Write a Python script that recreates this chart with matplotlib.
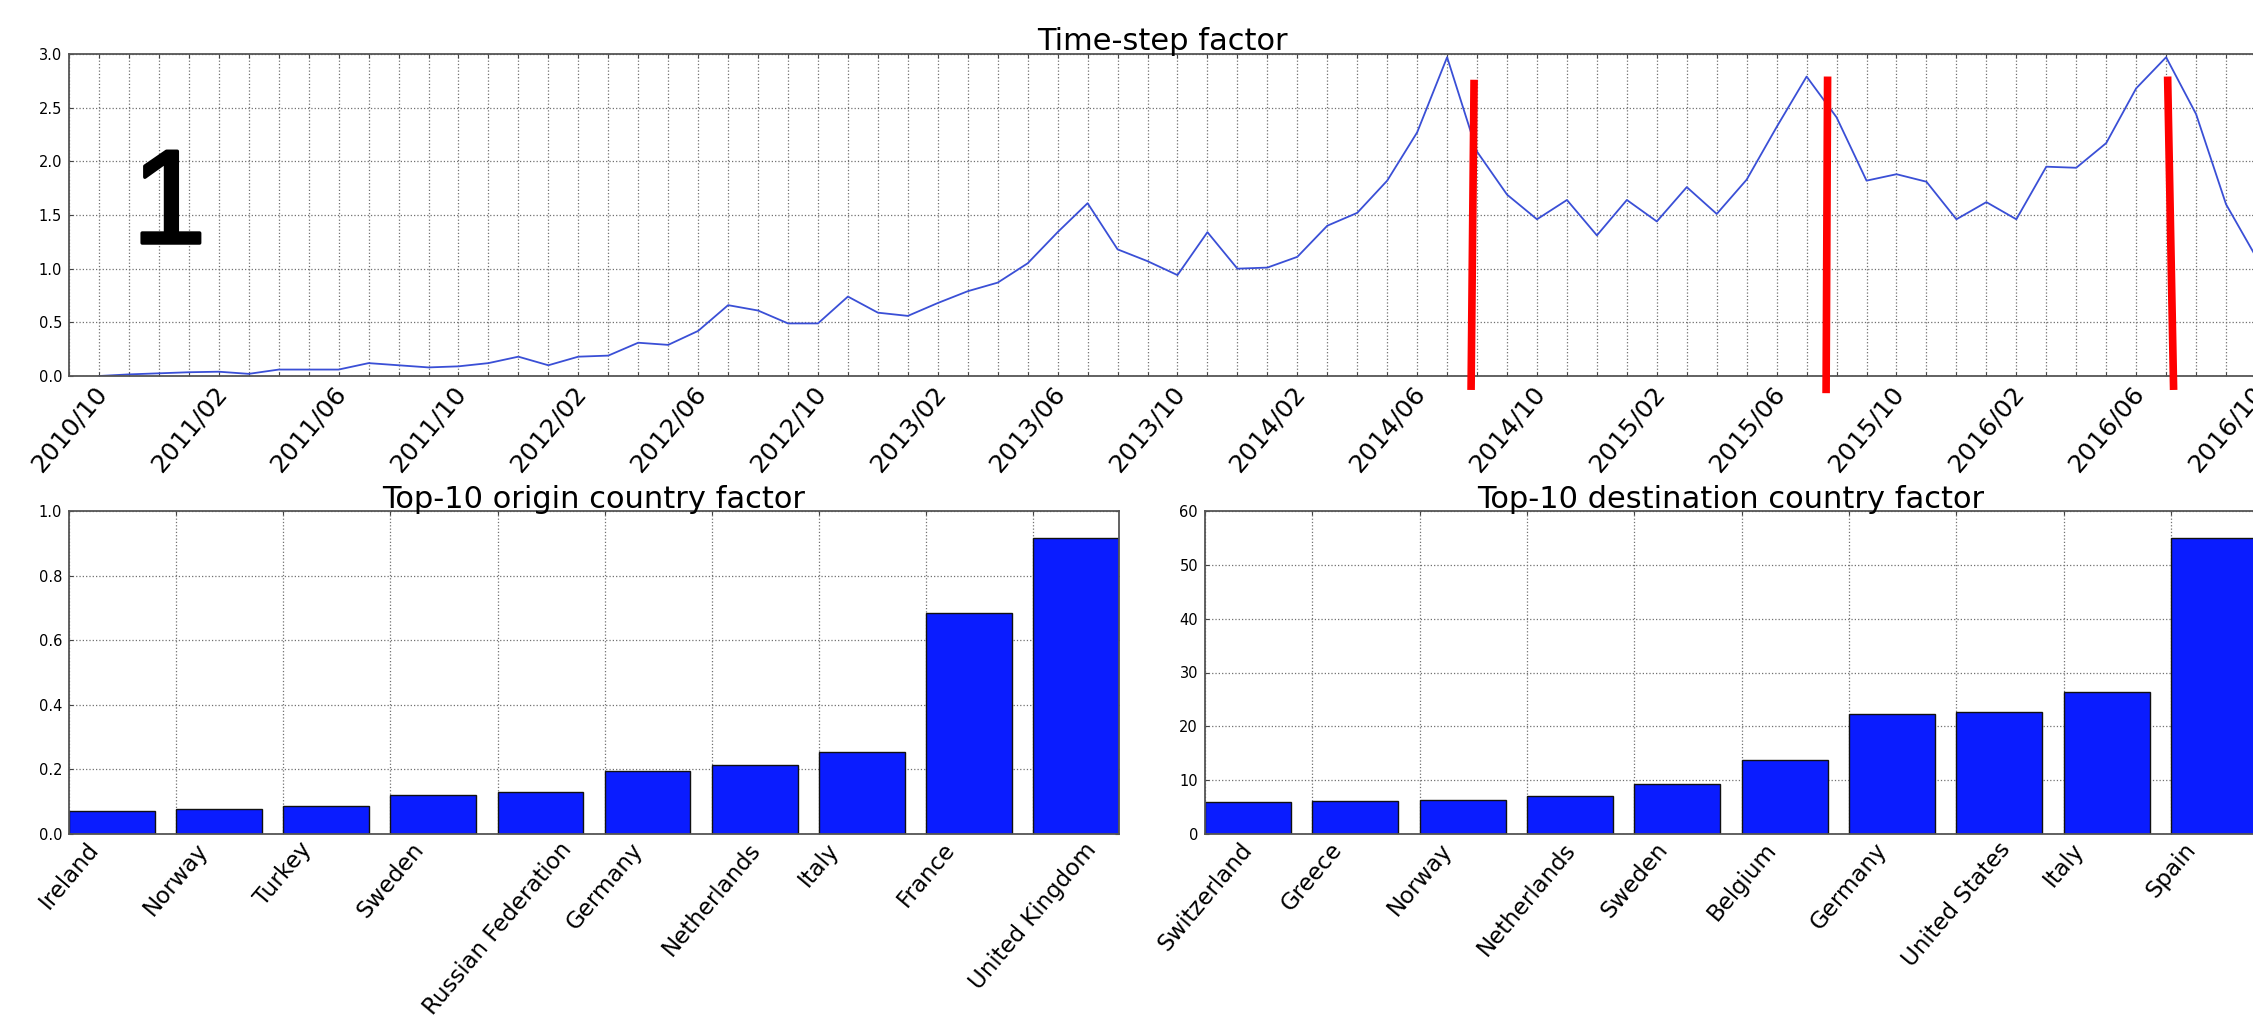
import numpy as np
import matplotlib
matplotlib.use('Agg')
import matplotlib.pyplot as plt
import matplotlib.patheffects as pe

# Monthly time-step factor, 2010/11 .. 2016/11 (x = months since 2010/10)
time_step_factor = [
    0.00, 0.015, 0.025, 0.035, 0.04, 0.02, 0.06, 0.06, 0.06, 0.12, 0.10, 0.08,
    0.09, 0.12, 0.18, 0.10, 0.18, 0.19, 0.31, 0.29, 0.42, 0.66, 0.61, 0.49,
    0.49, 0.74, 0.59, 0.56, 0.68, 0.79, 0.87, 1.05, 1.34, 1.61, 1.18, 1.07,
    0.94, 1.34, 1.00, 1.01, 1.11, 1.40, 1.52, 1.82, 2.27, 2.97, 2.09, 1.69,
    1.46, 1.64, 1.31, 1.64, 1.44, 1.76, 1.51, 1.83, 2.32, 2.79, 2.41, 1.82,
    1.88, 1.81, 1.46, 1.62, 1.46, 1.95, 1.94, 2.17, 2.68, 2.97, 2.44, 1.60,
    1.11,
]
date_labels = ['2010/10', '2011/02', '2011/06', '2011/10', '2012/02', '2012/06',
               '2012/10', '2013/02', '2013/06', '2013/10', '2014/02', '2014/06',
               '2014/10', '2015/02', '2015/06', '2015/10', '2016/02', '2016/06',
               '2016/10']
n_months = 73

# red markers (month index at top / bottom, y top / bottom)
marker_x_top = [46.9, 58.7, 70.05]
marker_x_bot = [46.8, 58.65, 70.25]
marker_y_top = [2.76, 2.79, 2.79]
marker_y_bot = [-0.13, -0.16, -0.13]

origin_countries = ['Ireland', 'Norway', 'Turkey', 'Sweden', 'Russian Federation',
                    'Germany', 'Netherlands', 'Italy', 'France', 'United Kingdom']
origin_factor = [0.071, 0.078, 0.087, 0.120, 0.129, 0.195, 0.214, 0.254, 0.684, 0.917]

dest_countries = ['Switzerland', 'Greece', 'Norway', 'Netherlands', 'Sweden',
                  'Belgium', 'Germany', 'United States', 'Italy', 'Spain']
dest_factor = [5.9, 6.2, 6.3, 7.0, 9.2, 13.7, 22.2, 22.7, 26.4, 54.9]

W, H = 2253, 1016
fig = plt.figure(figsize=(W / 100, H / 100), dpi=100)


def style_axes(ax):
    for s in ax.spines.values():
        s.set_color('#555555')
        s.set_linewidth(1.3)
    ax.tick_params(direction='in', length=3, top=True, right=True,
                   colors='#444444', labelcolor='black')
    ax.tick_params(axis='y', labelsize=10.5, pad=5)
    ax.grid(True, linestyle=':', color='#707070', linewidth=0.9)
    ax.set_axisbelow(True)


# --- time-step factor ---
ax1 = fig.add_axes([69 / W, 1 - 376 / H, (2256 - 69) / W, (376 - 54) / H])
months = np.arange(1, len(time_step_factor) + 1)
ax1.plot(months, time_step_factor, color='#3a4fd6', linewidth=1.3)
ax1.set_xlim(0, n_months)
ax1.set_ylim(0, 3.0)
ax1.set_yticks(np.arange(0, 3.01, 0.5))
ax1.set_yticklabels(['%.1f' % v for v in np.arange(0, 3.01, 0.5)])
ax1.set_xticks(np.arange(0, n_months + 1))
labels = [''] * (n_months + 1)
for i, lab in enumerate(date_labels):
    labels[i * 4] = lab
ax1.set_xticklabels(labels, rotation=50, ha='center', fontsize=18)
ax1.tick_params(axis='x', pad=4)
style_axes(ax1)
ax1.set_title('Time-step factor', fontsize=22, pad=3)

for xt, xb, yt, yb in zip(marker_x_top, marker_x_bot, marker_y_top, marker_y_bot):
    ax1.plot([xt, xb], [yt, yb], color='#ff0000', linewidth=5.5,
             solid_capstyle='butt', clip_on=False, zorder=5)

fig.text(132 / W, 1 - 243 / H, '1', fontsize=96, family='Liberation Sans',
         ha='left', va='baseline',
         path_effects=[pe.withStroke(linewidth=2.5, foreground='black')])


def bar_panel(rect, names, values, ymax, yticks, fmt, title):
    ax = fig.add_axes(rect)
    x = np.arange(len(values))
    ax.bar(x, values, width=0.8, align='edge', color='#0a1cff',
           edgecolor='#111111', linewidth=1.0)
    ax.set_xlim(0, len(values) - 0.2)
    ax.set_ylim(0, ymax)
    ax.set_yticks(yticks)
    ax.set_yticklabels([fmt % v for v in yticks])
    ax.set_xticks(x)
    ax.set_xticklabels(names, rotation=50, ha='center', fontsize=16.5)
    ax.tick_params(axis='x', pad=3)
    style_axes(ax)
    ax.set_title(title, fontsize=22, pad=2)
    return ax


bar_panel([69 / W, 1 - 834 / H, 1050 / W, (834 - 511) / H],
          origin_countries, origin_factor, 1.0,
          np.arange(0, 1.01, 0.2), '%.1f', 'Top-10 origin country factor')
bar_panel([1205 / W, 1 - 834 / H, 1052 / W, (834 - 511) / H],
          dest_countries, dest_factor, 60,
          np.arange(0, 61, 10), '%d', 'Top-10 destination country factor')

fig.savefig('out.png', dpi=100, facecolor='white')
